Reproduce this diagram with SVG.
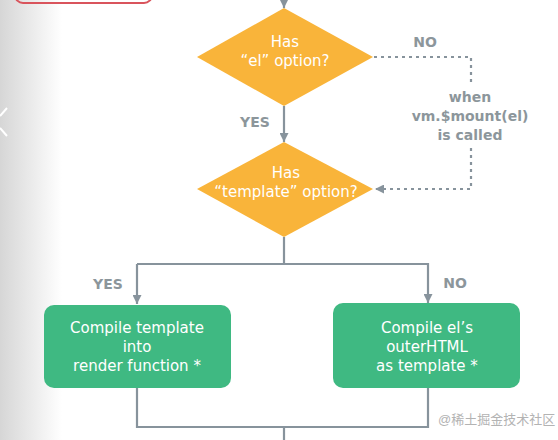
<svg xmlns="http://www.w3.org/2000/svg" width="558" height="440" viewBox="0 0 558 440">
<defs>
  <linearGradient id="side" x1="0" y1="0" x2="1" y2="0">
    <stop offset="0" stop-color="#d6d6d6"/>
    <stop offset="1" stop-color="#ffffff"/>
  </linearGradient>
  <marker id="arr" viewBox="0 0 10 10" refX="10" refY="5" markerWidth="9" markerHeight="9" markerUnits="userSpaceOnUse" orient="auto">
    <path d="M0,0 L10,5 L0,10 z" fill="#87939c"/>
  </marker>
</defs>
<style>
  .line{fill:none;stroke:#87939c;stroke-width:2.2}
  .dot{fill:none;stroke:#87939c;stroke-width:2.2;stroke-dasharray:3 4}
  .dia{fill:#f9b43a}
  .box{fill:#3fb982}
  .wt{font-family:"DejaVu Sans","Open Sans",sans-serif;font-size:15px;fill:#ffffff;text-anchor:middle}
  .lab{font-family:"DejaVu Sans","Open Sans",sans-serif;font-size:14px;font-weight:bold;fill:#8c969b;text-anchor:middle}
  .wm{font-family:"Liberation Sans","Noto Sans CJK SC",sans-serif;font-size:13px;fill:#b3b3b3}
</style>
<rect x="0" y="0" width="558" height="440" fill="#ffffff"/>
<rect x="0" y="0" width="62" height="440" fill="url(#side)"/>
<path d="M7,108 L0,116 M0,128 L7,136" stroke="#ffffff" stroke-width="2" fill="none"/>
<rect x="15" y="-20" width="137" height="23" rx="8" fill="none" stroke="#d9545c" stroke-width="2"/>

<g id="connectors">
  <line class="line" x1="284" y1="0" x2="284" y2="8" marker-end="url(#arr)"/>
  <line class="line" x1="284" y1="106" x2="284" y2="142" marker-end="url(#arr)"/>
  <polyline class="dot" points="374,57 471,57 471,84"/>
  <polyline class="dot" points="471,148 471,189 375,189" marker-end="url(#arr)"/>
  <line class="line" x1="284" y1="237" x2="284" y2="264"/>
  <polyline class="line" points="137,264 428,264 428,303" marker-end="url(#arr)"/>
  <line class="line" x1="137" y1="264" x2="137" y2="304" marker-end="url(#arr)"/>
  <polyline class="line" points="137,388 137,427 428,427 428,388"/>
  <line class="line" x1="284" y1="427" x2="284" y2="440"/>
  <text class="lab" x="255" y="127">YES</text>
  <text class="lab" x="425" y="47">NO</text>
  <text class="lab" x="470" y="102">when</text>
  <text class="lab" x="470" y="121">vm.$mount(el)</text>
  <text class="lab" x="470" y="140">is called</text>
  <text class="lab" x="108" y="289">YES</text>
  <text class="lab" x="455" y="288">NO</text>
</g>

<g id="has-el">
  <polygon class="dia" points="284,8 373,57 284,106 197,57"/>
  <text class="wt" x="285" y="47">Has</text>
  <text class="wt" x="285" y="66">“el” option?</text>
</g>

<g id="has-template">
  <polygon class="dia" points="284,142 373,189 284,237 197,189"/>
  <text class="wt" x="286" y="178">Has</text>
  <text class="wt" x="286" y="197">“template” option?</text>
</g>

<g id="compile-template">
  <rect class="box" x="44" y="305" width="187" height="83" rx="10"/>
  <text class="wt" x="137" y="333">Compile template</text>
  <text class="wt" x="137" y="352">into</text>
  <text class="wt" x="137" y="371">render function *</text>
</g>

<g id="compile-el">
  <rect class="box" x="333" y="303" width="187" height="85" rx="10"/>
  <text class="wt" x="427" y="333">Compile el’s</text>
  <text class="wt" x="427" y="352">outerHTML</text>
  <text class="wt" x="427" y="371">as template *</text>
</g>

<text class="wm" x="438" y="424">@稀土掘金技术社区</text>
</svg>
